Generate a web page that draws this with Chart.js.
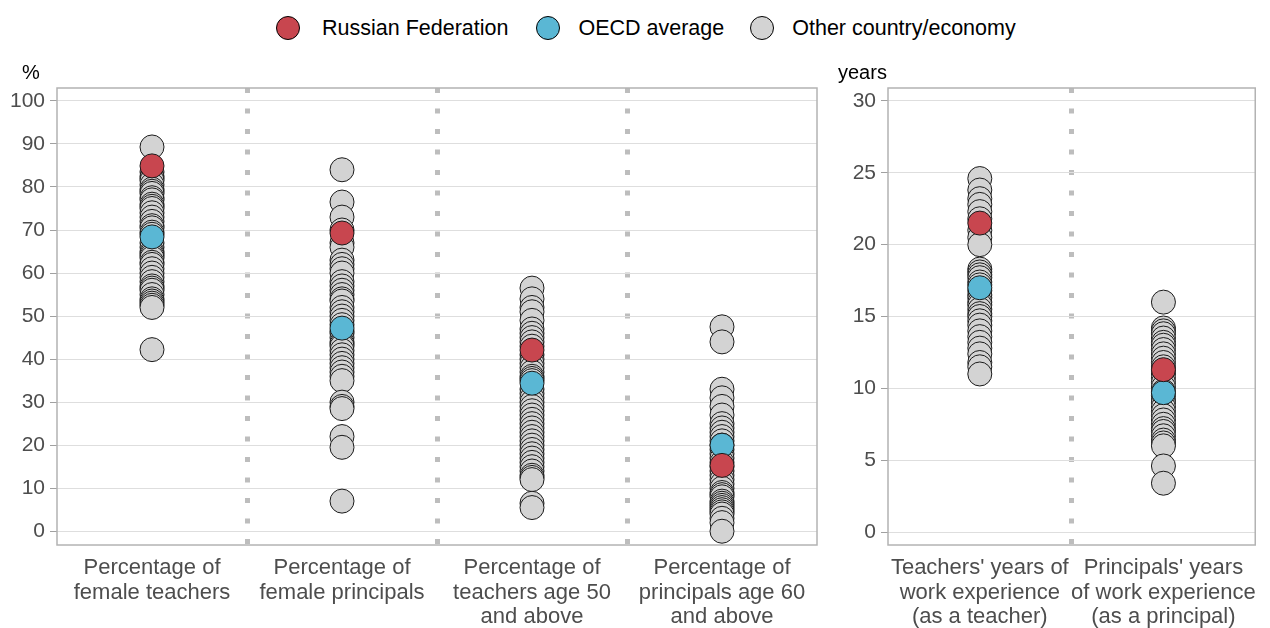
<!DOCTYPE html>
<html><head><meta charset="utf-8">
<script src="https://cdn.jsdelivr.net/npm/chart.js@4"></script>
<style>
body{margin:0;width:1270px;height:628px;background:#fff;position:relative;overflow:hidden;font-family:"Liberation Sans",Arial,sans-serif}
#legend{position:absolute;top:16px;left:276px;display:flex;align-items:center;font-size:21.5px;color:#000;height:24px;white-space:nowrap}
.sw{width:22px;height:22px;border-radius:50%;border:1px solid #000;display:inline-block;flex:none}
#c1{position:absolute;left:0;top:0}
#c2{position:absolute;left:830px;top:0}
</style>
</head><body>
<div id="legend">
  <span class="sw" style="background:#c8464f"></span><span style="margin-left:22px;margin-right:28px">Russian Federation</span>
  <span class="sw" style="background:#5ab7d4"></span><span style="margin-left:18px;margin-right:26px">OECD average</span>
  <span class="sw" style="background:#d3d3d3"></span><span style="margin-left:18px">Other country/economy</span>
</div>
<canvas id="c1" width="830" height="628"></canvas>
<canvas id="c2" width="440" height="628"></canvas>
<script>
// ---- categories ----
const categoriesLeft = [
  ['Percentage of', 'female teachers'],
  ['Percentage of', 'female principals'],
  ['Percentage of', 'teachers age 50', 'and above'],
  ['Percentage of', 'principals age 60', 'and above']
];
const categoriesRight = [
  ["Teachers' years of", 'work experience', '(as a teacher)'],
  ["Principals' years", 'of work experience', '(as a principal)']
];
// ---- tick labels ----
const yTicksLeft = [0, 10, 20, 30, 40, 50, 60, 70, 80, 90, 100];
const yTicksRight = [0, 5, 10, 15, 20, 25, 30];
// ---- series values ----
const russiaLeft = [84.9, 69.3, 42.1, 15.3];
const oecdLeft = [68.4, 47.2, 34.4, 20.0];
const russiaRight = [21.5, 11.3];
const oecdRight = [17.0, 9.7];

const femaleTeachersOther = [89.3, 83.5, 82.5, 82, 81.5, 80.5, 79.5, 79, 78.5, 77.5, 77, 76, 75.5, 75, 74, 73, 72, 71, 70.5, 69.5, 69, 67, 66, 65, 64.5, 64, 63.5, 62.5, 62, 61, 60, 59, 58, 57, 56.5, 56, 55, 54, 53.5, 53, 52.5, 52, 42.2];
const femalePrincipalsOther = [84, 76.5, 73, 70, 67, 66, 63, 62, 61, 60, 58, 57, 56, 55, 54, 53.5, 52, 51, 50, 49, 48, 46.5, 46, 45, 44, 43.5, 43, 42, 41, 40, 39, 38, 37, 36, 35, 30, 29, 28.5, 22, 19.5, 7];
const teachers50Other = [56.5, 54, 52, 51, 49, 47, 46, 45, 44, 43, 41, 40, 39, 38, 37, 36, 35.5, 35, 33, 32, 31, 30, 29, 28, 27, 26, 25, 24, 23, 22, 21, 20, 19, 18, 17, 16, 15, 14, 13, 12.5, 12, 6.5, 5.5];
const principals60Other = [47.5, 44, 33, 31, 29, 27, 25, 24, 23, 22, 21, 20, 19, 18, 17, 16, 15, 14, 13, 12, 11, 10, 9, 8.5, 8, 7, 6.5, 6, 5.5, 5, 4.5, 4, 3, 2, 0];
const teacherExpOther = [24.6, 23.8, 23.2, 22.8, 22.3, 21.8, 21, 20.5, 20, 18.3, 18.1, 17.9, 17.7, 17.4, 17.2, 16.8, 16.5, 16.3, 16, 15.8, 15.5, 15.2, 15, 14.7, 14.4, 14, 13.6, 13.2, 12.8, 12.4, 11.8, 11.5, 11];
const principalExpOther = [16, 14.2, 14, 13.8, 13.5, 13.2, 13, 12.7, 12.4, 12.1, 11.8, 11.5, 11.2, 11, 10.7, 10.4, 10.1, 9.8, 9.5, 9.2, 9, 8.7, 8.4, 8.1, 7.8, 7.5, 7.2, 7, 6.7, 6.4, 6.2, 6, 4.6, 3.4];

const otherLeft = [femaleTeachersOther, femalePrincipalsOther, teachers50Other, principals60Other];
const otherRight = [teacherExpOther, principalExpOther];

const RED = '#c8464f', BLUE = '#5ab7d4', GRAY = '#d3d3d3';
const FONT = '"Liberation Sans", Arial, sans-serif';

const toPts = arr => arr.map((v, i) => ({x: i, y: v}));
const groupPts = groups => groups.flatMap((g, i) => g.map(v => ({x: i, y: v})));

const boxPlugin = {
  id: 'box',
  beforeDatasetsDraw(chart) {
    const a = chart.chartArea, ctx = chart.ctx;
    ctx.save();
    ctx.strokeStyle = '#b3b3b3';
    ctx.lineWidth = 1.5;
    ctx.strokeRect(a.left, a.top, a.right - a.left, a.bottom - a.top);
    ctx.restore();
  }
};
const unitPlugin = {
  id: 'unitLabel',
  afterDraw(chart, args, opts) {
    const ctx = chart.ctx;
    ctx.save();
    ctx.font = '20px ' + FONT;
    ctx.fillStyle = '#000';
    ctx.textBaseline = 'middle';
    ctx.textAlign = 'left';
    ctx.fillText(opts.text, opts.x, 73);
    ctx.restore();
  }
};

function makeChart(id, labels, groups, russia, oecd, ticks, ymin, ymax, unit, unitX, yWidth, padRight) {
  const ds = (label, data, color) => ({
    label, data, showLine: false,
    pointRadius: 12, pointHoverRadius: 12,
    pointBackgroundColor: color, pointBorderColor: '#1a1a1a', pointBorderWidth: 1,
    backgroundColor: color, borderColor: '#1a1a1a', clip: false
  });
  const n = labels.length;
  return new Chart(document.getElementById(id), {
    type: 'scatter',
    data: {
      datasets: [
        ds('Russian Federation', toPts(russia), RED),
        ds('OECD average', toPts(oecd), BLUE),
        ds('Other country/economy', groupPts(groups), GRAY)
      ]
    },
    options: {
      responsive: false,
      animation: false,
      events: [],
      layout: {padding: {top: 88, right: padRight, left: 0, bottom: 0}},
      plugins: {legend: {display: false}, tooltip: {enabled: false},
        unitLabel: {text: unit, x: unitX}},
      scales: {
        x: {
          type: 'linear',
          min: -0.5, max: n - 0.5,
          afterFit(s) { s.height = 83; },
          afterBuildTicks(s) { s.ticks = labels.map((l, i) => ({value: i})); },
          grid: {
            offset: true, drawTicks: false, lineWidth: 5,
            color: c => (c.type === 'tick' && c.index > 0) ? '#bdbdbd' : 'rgba(0,0,0,0)'
          },
          border: {display: false, dash: [5, 15.5]},
          ticks: {
            color: '#4d4d4d', font: {family: FONT, size: 22, lineHeight: 1.11},
            padding: 11, maxRotation: 0, autoSkip: false,
            callback: v => labels[v]
          }
        },
        y: {
          min: ymin, max: ymax,
          afterFit(s) { s.width = yWidth; },
          afterBuildTicks(s) { s.ticks = ticks.map(v => ({value: v})); },
          grid: {color: '#dedede', lineWidth: 1, tickColor: '#a0a0a0', tickLength: 7},
          border: {display: false},
          ticks: {color: '#4d4d4d', font: {family: FONT, size: 21}, padding: 5}
        }
      }
    },
    plugins: [boxPlugin, unitPlugin]
  });
}

makeChart('c1', categoriesLeft, otherLeft, russiaLeft, oecdLeft, yTicksLeft, -3.2, 103, '%', 22, 57, 10);
makeChart('c2', categoriesRight, otherRight, russiaRight, oecdRight, yTicksRight, -0.9, 30.9, 'years', 8, 58, 6);
</script>
</body></html>
